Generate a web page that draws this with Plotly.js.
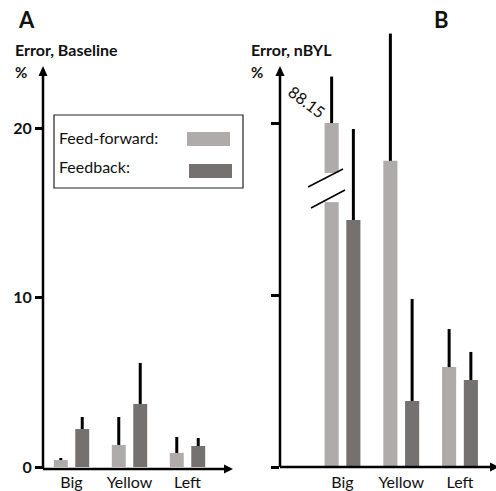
<!DOCTYPE html>
<html>
<head>
<meta charset="utf-8">
<script src="https://cdn.plot.ly/plotly-3.0.1.min.js"></script>
<style>html,body{margin:0;padding:0;background:#fff;}#chart{width:496px;height:491px;}</style>
</head>
<body>
<div id="chart"></div>
<script>
// ---- data ----
const categories = ['Big', 'Yellow', 'Left'];
const seriesNames = ['Feed-forward:', 'Feedback:'];
const yTickVals = [0, 10, 20];
const yTickTextA = ['0', '10', '20'];

// Panel A: Error, Baseline (%)
const ffA = [0.41, 1.30, 0.83];
const ffAErr = [0.12, 1.65, 0.94];
const fbA = [2.24, 3.72, 1.24];
const fbAErr = [0.71, 2.42, 0.47];

// Panel B: Error, nBYL (%)
const ffB = [88.15, 17.8, 5.81];
const ffBErr = [2.7, 7.4, 2.21];
const fbB = [14.36, 3.84, 5.06];
const fbBErr = [5.29, 5.93, 1.63];

// axis break on panel B
const breakCap = 20;
const breakLow = 15.4;
const breakHigh = 17.1;

// ---- styling ----
const W = 496, H = 491;
const colFF = '#afabab';
const colFB = '#767171';
const FONT = 'Lato, "Open Sans", sans-serif';
const barW = 0.24;
const offFF = -0.305, offFB = 0.065;

function px(x) { return x / W; }
function py(y) { return 1 - y / H; }

const ffBshown = ffB.map(v => Math.min(v, breakCap));

function barTrace(y, err, color, name, off, xa, ya) {
  return {
    type: 'bar', x: categories, y: y, name: name,
    width: barW, offset: off,
    marker: { color: color, line: { width: 0 } },
    error_y: { type: 'data', symmetric: false, array: err, arrayminus: err.map(() => 0),
               color: '#000', thickness: 3, width: 0 },
    xaxis: xa, yaxis: ya, cliponaxis: false, showlegend: false, hoverinfo: 'none'
  };
}

const data = [
  barTrace(ffA, ffAErr, colFF, seriesNames[0], offFF, 'x', 'y'),
  barTrace(fbA, fbAErr, colFB, seriesNames[1], offFB, 'x', 'y'),
  barTrace(ffBshown, ffBErr, colFF, seriesNames[0], offFF, 'x2', 'y2'),
  barTrace(fbB, fbBErr, colFB, seriesNames[1], offFB, 'x2', 'y2')
];

const baseY = 467;
const domBottom = py(baseY);
const xTickFont = { family: FONT, size: 16, color: '#111' };

const layout = {
  width: W, height: H,
  margin: { l: 0, r: 0, t: 0, b: 0 },
  paper_bgcolor: '#fff', plot_bgcolor: 'rgba(0,0,0,0)',
  showlegend: false,
  xaxis: {
    domain: [px(43), px(232)], range: [(43 - 71.5) / 58, (232 - 71.5) / 58],
    type: 'category', showgrid: false, zeroline: false, showline: false,
    ticks: '', tickfont: xTickFont, ticklabelstandoff: 4, anchor: 'y', fixedrange: true
  },
  yaxis: {
    domain: [domBottom, 1], range: [0, baseY / 16.95],
    tickvals: yTickVals, ticktext: yTickTextA,
    tickfont: { family: FONT, size: 16, color: '#111', weight: 'bold' },
    ticks: 'outside', ticklen: 7, tickwidth: 3, tickcolor: '#000',
    showgrid: false, zeroline: false, showline: false, anchor: 'x', fixedrange: true
  },
  xaxis2: {
    domain: [px(280), 1], range: [(280 - 342.5) / 58.75, (496 - 342.5) / 58.75],
    type: 'category', showgrid: false, zeroline: false, showline: false,
    ticks: '', tickfont: xTickFont, ticklabelstandoff: 4, anchor: 'y2', fixedrange: true
  },
  yaxis2: {
    domain: [domBottom, 1], range: [0, baseY / 17.2],
    tickvals: yTickVals, showticklabels: false,
    ticks: 'outside', ticklen: 8, tickwidth: 3, tickcolor: '#000',
    showgrid: false, zeroline: false, showline: false, anchor: 'x2', fixedrange: true
  },
  shapes: [],
  annotations: []
};

function line(x0, y0, x1, y1, w) {
  layout.shapes.push({ type: 'line', xref: 'paper', yref: 'paper',
    x0: px(x0), y0: py(y0), x1: px(x1), y1: py(y1), line: { color: '#000', width: w } });
}
function tri(a, b, c) {
  layout.shapes.push({ type: 'path', xref: 'paper', yref: 'paper',
    path: 'M' + px(a[0]) + ',' + py(a[1]) + ' L' + px(b[0]) + ',' + py(b[1]) + ' L' + px(c[0]) + ',' + py(c[1]) + ' Z',
    fillcolor: '#000', line: { width: 0 } });
}
function text(t, x, y, size, bold, anchor, angle) {
  layout.annotations.push({ text: t, xref: 'paper', yref: 'paper', x: px(x), y: py(y),
    xanchor: anchor || 'left', yanchor: 'middle', showarrow: false, textangle: angle || 0,
    font: { family: FONT, size: size, color: '#111', weight: bold ? 'bold' : 'normal' } });
}

// Panel A axes
line(43, 469, 43, 74, 2.5);
tri([43, 66], [38.5, 76], [47.5, 76]);
line(43, 469, 226, 469, 2.5);
tri([233, 469], [224, 464.5], [224, 473.5]);
// Panel B axes
line(280, 467, 280, 74, 2.5);
tri([280, 66], [275.5, 76], [284.5, 76]);
line(280, 467, 492, 467, 2.5);
tri([499, 467], [490, 462.5], [490, 471.5]);

// Break on Big feed-forward bar (panel B)
layout.shapes.push({ type: 'rect', xref: 'x2', yref: 'y2',
  x0: offFF - 0.03, x1: offFF + barW + 0.03, y0: breakLow, y1: breakHigh,
  fillcolor: '#fff', line: { width: 0 }, layer: 'above' });
line(308, 187, 343, 169, 1.5);
line(311, 208, 345, 190, 1.5);

// Legend (custom)
layout.shapes.push({ type: 'rect', xref: 'paper', yref: 'paper',
  x0: px(54), y0: py(115), x1: px(243), y1: py(188), line: { color: '#222', width: 1.2 }, fillcolor: 'rgba(0,0,0,0)' });
layout.shapes.push({ type: 'rect', xref: 'paper', yref: 'paper',
  x0: px(187), y0: py(132), x1: px(230), y1: py(146), fillcolor: colFF, line: { width: 0 } });
layout.shapes.push({ type: 'rect', xref: 'paper', yref: 'paper',
  x0: px(189), y0: py(164), x1: px(232), y1: py(178), fillcolor: colFB, line: { width: 0 } });
text(seriesNames[0], 57, 137, 16, false);
text(seriesNames[1], 57, 167, 16, false);

// Titles and labels
text('A', 16, 20, 22, true);
text('B', 432, 20, 22, true);
text('Error, Baseline', 13, 49, 16, true);
text('%', 13, 72, 15, true);
text('Error, nBYL', 249, 49, 16, true);
text('%', 249, 72, 15, true);
text(String(ffB[0]), 307, 101, 16, false, 'center', 37);

Plotly.newPlot('chart', data, layout, { displayModeBar: false, staticPlot: true });
</script>
</body>
</html>
